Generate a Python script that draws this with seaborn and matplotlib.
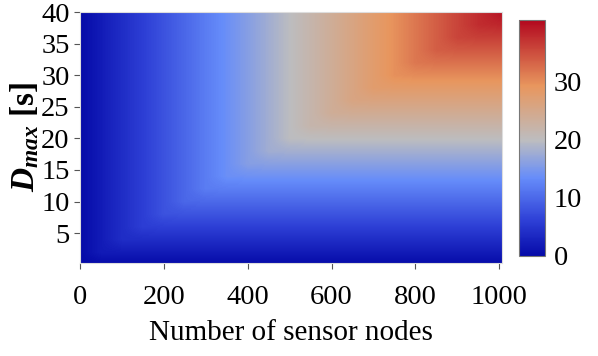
import numpy as np
import matplotlib
matplotlib.use('Agg')
import matplotlib.pyplot as plt
from matplotlib.colors import LinearSegmentedColormap
import seaborn as sns

nodes = [0, 50, 100, 150, 200, 250, 300, 350, 400, 450, 500,
         550, 600, 650, 700, 750, 800, 850, 900, 950, 1000]
d_max = [0, 2, 4, 6, 8, 10, 12, 14, 16, 18, 20,
         22, 24, 26, 28, 30, 32, 34, 36, 38, 40]
delay = [
    [0, 0, 0, 0, 0, 0, 0, 0, 0, 0, 0, 0, 0, 0, 0, 0, 0, 0, 0, 0, 0],
    [0, 2.0, 2, 2, 2, 2, 2, 2, 2, 2, 2, 2, 2, 2, 2, 2, 2, 2, 2, 2, 2],
    [0, 2.0, 4.0, 4, 4, 4, 4, 4, 4, 4, 4, 4, 4, 4, 4, 4, 4, 4, 4, 4, 4],
    [0, 2.0, 4.0, 5.9, 6, 6, 6, 6, 6, 6, 6, 6, 6, 6, 6, 6, 6, 6, 6, 6, 6],
    [0, 2.0, 4.0, 5.9, 7.9, 8, 8, 8, 8, 8, 8, 8, 8, 8, 8, 8, 8, 8, 8, 8, 8],
    [0, 2.0, 4.0, 5.9, 7.9, 9.9, 10, 10, 10, 10, 10, 10, 10, 10, 10, 10, 10, 10, 10, 10, 10],
    [0, 2.0, 4.0, 5.9, 7.9, 9.9, 11.9, 12, 12, 12, 12, 12, 12, 12, 12, 12, 12, 12, 12, 12, 12],
    [0, 2.0, 4.0, 5.9, 7.9, 9.9, 11.9, 13.8, 14, 14, 14, 14, 14, 14, 14, 14, 14, 14, 14, 14, 14],
    [0, 2.0, 4.0, 5.9, 7.9, 9.9, 11.9, 13.8, 15.8, 16, 16, 16, 16, 16, 16, 16, 16, 16, 16, 16, 16],
    [0, 2.0, 4.0, 5.9, 7.9, 9.9, 11.9, 13.8, 15.8, 17.8, 18, 18, 18, 18, 18, 18, 18, 18, 18, 18, 18],
    [0, 2.0, 4.0, 5.9, 7.9, 9.9, 11.9, 13.8, 15.8, 17.8, 19.8, 20, 20, 20, 20, 20, 20, 20, 20, 20, 20],
    [0, 2.0, 4.0, 5.9, 7.9, 9.9, 11.9, 13.8, 15.8, 17.8, 19.8, 21.7, 22, 22, 22, 22, 22, 22, 22, 22, 22],
    [0, 2.0, 4.0, 5.9, 7.9, 9.9, 11.9, 13.8, 15.8, 17.8, 19.8, 21.7, 23.7, 24, 24, 24, 24, 24, 24, 24, 24],
    [0, 2.0, 4.0, 5.9, 7.9, 9.9, 11.9, 13.8, 15.8, 17.8, 19.8, 21.7, 23.7, 25.7, 26, 26, 26, 26, 26, 26, 26],
    [0, 2.0, 4.0, 5.9, 7.9, 9.9, 11.9, 13.8, 15.8, 17.8, 19.8, 21.7, 23.7, 25.7, 27.7, 28, 28, 28, 28, 28, 28],
    [0, 2.0, 4.0, 5.9, 7.9, 9.9, 11.9, 13.8, 15.8, 17.8, 19.8, 21.7, 23.7, 25.7, 27.7, 29.6, 30, 30, 30, 30, 30],
    [0, 2.0, 4.0, 5.9, 7.9, 9.9, 11.9, 13.8, 15.8, 17.8, 19.8, 21.7, 23.7, 25.7, 27.7, 29.6, 31.6, 32, 32, 32, 32],
    [0, 2.0, 4.0, 5.9, 7.9, 9.9, 11.9, 13.8, 15.8, 17.8, 19.8, 21.7, 23.7, 25.7, 27.7, 29.6, 31.6, 33.6, 34, 34, 34],
    [0, 2.0, 4.0, 5.9, 7.9, 9.9, 11.9, 13.8, 15.8, 17.8, 19.8, 21.7, 23.7, 25.7, 27.7, 29.6, 31.6, 33.6, 35.6, 36, 36],
    [0, 2.0, 4.0, 5.9, 7.9, 9.9, 11.9, 13.8, 15.8, 17.8, 19.8, 21.7, 23.7, 25.7, 27.7, 29.6, 31.6, 33.6, 35.6, 37.5, 38],
    [0, 2.0, 4.0, 5.9, 7.9, 9.9, 11.9, 13.8, 15.8, 17.8, 19.8, 21.7, 23.7, 25.7, 27.7, 29.6, 31.6, 33.6, 35.6, 37.5, 39.5],
]
xticks = [0, 200, 400, 600, 800, 1000]
yticks = [5, 10, 15, 20, 25, 30, 35, 40]
cticks = [0, 10, 20, 30]

cmap = LinearSegmentedColormap.from_list('cw', [
    (0.0, (0.02, 0.04, 0.66)),
    (0.15, (0.18, 0.25, 0.84)),
    (0.33, (0.40, 0.55, 0.98)),
    (0.49, (0.74, 0.74, 0.75)),
    (0.72, (0.91, 0.59, 0.37)),
    (1.0, (0.70, 0.03, 0.12)),
])

sns.set_theme(style='ticks')
plt.rcParams['font.family'] = ['Liberation Serif', 'DejaVu Serif']
plt.rcParams['mathtext.fontset'] = 'custom'
plt.rcParams['mathtext.it'] = 'Liberation Serif:italic:bold'
plt.rcParams['mathtext.rm'] = 'Liberation Serif:bold'
plt.rcParams['text.color'] = 'black'
plt.rcParams['axes.labelcolor'] = 'black'
plt.rcParams['xtick.labelcolor'] = 'black'
plt.rcParams['ytick.labelcolor'] = 'black'

fig = plt.figure(figsize=(5.98, 3.56), dpi=100)
ax = fig.add_axes([0.134, 0.261, 0.705, 0.705])
cax = fig.add_axes([0.868, 0.281, 0.044, 0.663])

dx = (nodes[1] - nodes[0]) / 2
dy = (d_max[1] - d_max[0]) / 2
im = ax.imshow(np.array(delay), origin='lower', aspect='auto', cmap=cmap,
               vmin=0, vmax=40.5, interpolation='bilinear',
               extent=[nodes[0] - dx, nodes[-1] + dx, d_max[0] - dy, d_max[-1] + dy])
ax.set_xlim(0, 1006)
ax.set_ylim(0.25, 40)
ax.set_xticks(xticks)
ax.set_yticks(yticks)
ax.tick_params(labelsize=20.5, length=4, width=0.8, color='#555555')
ax.tick_params(axis='x', pad=12)
for s in ax.spines.values():
    s.set_color('#dddddd')
    s.set_linewidth(0.8)
ax.set_xlabel('Number of sensor nodes', fontsize=21, labelpad=7)
ax.set_ylabel(r'$D_{max}$ [s]', fontsize=24, fontweight='bold', labelpad=0)

cb = fig.colorbar(im, cax=cax, ticks=cticks)
cb.ax.tick_params(labelsize=20.5, length=0, pad=6)
cb.outline.set_edgecolor('#777777')
cb.outline.set_linewidth(0.8)

fig.savefig('out.png', dpi=100)
